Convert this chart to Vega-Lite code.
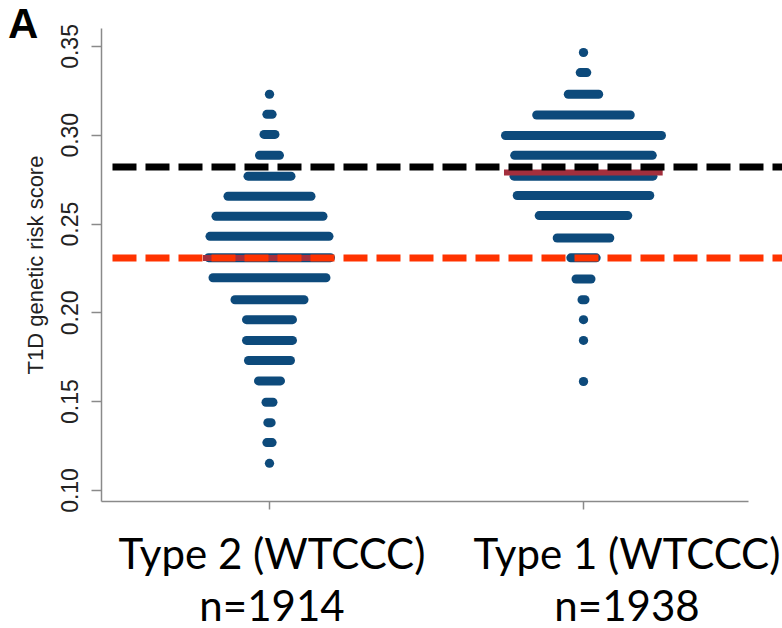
{
  "$schema": "https://vega.github.io/schema/vega-lite/v6.json",
  "width": 647,
  "height": 473,
  "autosize": {"type": "none"},
  "padding": {"left": 101, "top": 28, "right": 34, "bottom": 127},
  "background": "white",
  "config": {"view": {"stroke": null}},
  "title": {"text": "A", "anchor": "start", "frame": "group", "font": "Liberation Sans", "fontSize": 42, "fontWeight": "bold", "color": "#000000", "baseline": "alphabetic", "dx": -93, "dy": 56, "offset": 0},
  "datasets": {
    "rows": [
      {"group": "Type 2 (WTCCC)", "score": 0.3228, "lo": 0.9995, "hi": 1.0005},
      {"group": "Type 2 (WTCCC)", "score": 0.3115, "lo": 0.9916, "hi": 1.0084},
      {"group": "Type 2 (WTCCC)", "score": 0.3002, "lo": 0.9825, "hi": 1.0175},
      {"group": "Type 2 (WTCCC)", "score": 0.2884, "lo": 0.9682, "hi": 1.0318},
      {"group": "Type 2 (WTCCC)", "score": 0.2767, "lo": 0.9315, "hi": 1.0685},
      {"group": "Type 2 (WTCCC)", "score": 0.2654, "lo": 0.8678, "hi": 1.1322},
      {"group": "Type 2 (WTCCC)", "score": 0.2541, "lo": 0.8296, "hi": 1.1704},
      {"group": "Type 2 (WTCCC)", "score": 0.2428, "lo": 0.8105, "hi": 1.1895},
      {"group": "Type 2 (WTCCC)", "score": 0.2308, "lo": 0.8057, "hi": 1.1943},
      {"group": "Type 2 (WTCCC)", "score": 0.2195, "lo": 0.8201, "hi": 1.1799},
      {"group": "Type 2 (WTCCC)", "score": 0.2071, "lo": 0.8901, "hi": 1.1099},
      {"group": "Type 2 (WTCCC)", "score": 0.1959, "lo": 0.9268, "hi": 1.0732},
      {"group": "Type 2 (WTCCC)", "score": 0.1842, "lo": 0.9268, "hi": 1.0732},
      {"group": "Type 2 (WTCCC)", "score": 0.1729, "lo": 0.9331, "hi": 1.0669},
      {"group": "Type 2 (WTCCC)", "score": 0.1614, "lo": 0.965, "hi": 1.035},
      {"group": "Type 2 (WTCCC)", "score": 0.1494, "lo": 0.9889, "hi": 1.0111},
      {"group": "Type 2 (WTCCC)", "score": 0.1379, "lo": 0.9947, "hi": 1.0053},
      {"group": "Type 2 (WTCCC)", "score": 0.1267, "lo": 0.9916, "hi": 1.0084},
      {"group": "Type 2 (WTCCC)", "score": 0.115, "lo": 0.9995, "hi": 1.0005},
      {"group": "Type 1 (WTCCC)", "score": 0.3463, "lo": 1.9995, "hi": 2.0005},
      {"group": "Type 1 (WTCCC)", "score": 0.335, "lo": 1.9895, "hi": 2.0105},
      {"group": "Type 1 (WTCCC)", "score": 0.3228, "lo": 1.9516, "hi": 2.0484},
      {"group": "Type 1 (WTCCC)", "score": 0.3111, "lo": 1.851, "hi": 2.149},
      {"group": "Type 1 (WTCCC)", "score": 0.2996, "lo": 1.7516, "hi": 2.2484},
      {"group": "Type 1 (WTCCC)", "score": 0.2884, "lo": 1.7809, "hi": 2.2191},
      {"group": "Type 1 (WTCCC)", "score": 0.2767, "lo": 1.7787, "hi": 2.2213},
      {"group": "Type 1 (WTCCC)", "score": 0.2658, "lo": 1.7889, "hi": 2.2111},
      {"group": "Type 1 (WTCCC)", "score": 0.2545, "lo": 1.8589, "hi": 2.1411},
      {"group": "Type 1 (WTCCC)", "score": 0.2419, "lo": 1.9162, "hi": 2.0838},
      {"group": "Type 1 (WTCCC)", "score": 0.2307, "lo": 1.9596, "hi": 2.0404},
      {"group": "Type 1 (WTCCC)", "score": 0.2188, "lo": 1.9761, "hi": 2.0239},
      {"group": "Type 1 (WTCCC)", "score": 0.2071, "lo": 1.9952, "hi": 2.0048},
      {"group": "Type 1 (WTCCC)", "score": 0.1959, "lo": 1.9995, "hi": 2.0005},
      {"group": "Type 1 (WTCCC)", "score": 0.1842, "lo": 1.9995, "hi": 2.0005},
      {"group": "Type 1 (WTCCC)", "score": 0.1611, "lo": 1.9995, "hi": 2.0005}
    ],
    "medians": [
      {"group": "Type 2 (WTCCC)", "score": 0.2306, "lo": 0.7882, "hi": 1.2054},
      {"group": "Type 1 (WTCCC)", "score": 0.2787, "lo": 1.7468, "hi": 2.2522}
    ],
    "blackref": [{"score": 0.2818, "lo": 0.5, "hi": 2.64}],
    "redref": [{"score": 0.2306, "lo": 0.5, "hi": 2.64}]
  },
  "encoding": {
    "x": {"field": "lo", "type": "quantitative", "scale": {"domain": [0.4634, 2.5239], "nice": false, "zero": false},
      "axis": {"values": [1, 2], "title": null, "grid": false,
        "labelExpr": "datum.value == 1 ? ['Type 2 (WTCCC)', 'n=1914'] : ['Type 1 (WTCCC)', 'n=1938']",
        "labelFont": "Lato", "labelFontSize": 42, "labelLineHeight": 52, "labelColor": "#000000", "labelLimit": 0,
        "labelPadding": 26, "labelOffset": {"condition": {"test": "datum.value == 2", "value": 43}, "value": 2},
        "labelOverlap": false, "labelBound": false, "labelFlush": false,
        "tickSize": 8, "tickColor": "#8a8a8a", "tickWidth": 1.5, "domainColor": "#8a8a8a", "domainWidth": 1.5}},
    "x2": {"field": "hi"},
    "y": {"field": "score", "type": "quantitative", "scale": {"domain": [0.0938, 0.3601], "nice": false, "zero": false},
      "axis": {"values": [0.1, 0.15, 0.2, 0.25, 0.3, 0.35], "format": ".2f", "title": "T1D genetic risk score", "grid": false,
        "labelAngle": 270, "labelAlign": "center", "labelBaseline": "alphabetic", "labelPadding": 14,
        "labelFont": "Liberation Sans", "labelFontSize": 23, "labelColor": "#222222",
        "titleFont": "Liberation Sans", "titleFontSize": 22, "titleFontWeight": "normal", "titleColor": "#222222", "titlePadding": 12,
        "tickSize": 10, "tickColor": "#8a8a8a", "tickWidth": 1.5, "domainColor": "#8a8a8a", "domainWidth": 1.5}}
  },
  "layer": [
    {"data": {"name": "rows"}, "mark": {"type": "rule", "strokeWidth": 9, "strokeCap": "round", "color": "#0d4a7b"}},
    {"data": {"name": "medians"}, "mark": {"type": "rule", "strokeWidth": 6, "strokeCap": "butt", "color": "#a32f3d"}},
    {"data": {"name": "blackref"}, "mark": {"type": "rule", "strokeWidth": 7, "strokeDash": [24, 9], "color": "#000000"}},
    {"data": {"name": "redref"}, "mark": {"type": "rule", "strokeWidth": 7, "strokeDash": [24, 9], "color": "#ff3300"}}
  ]
}
